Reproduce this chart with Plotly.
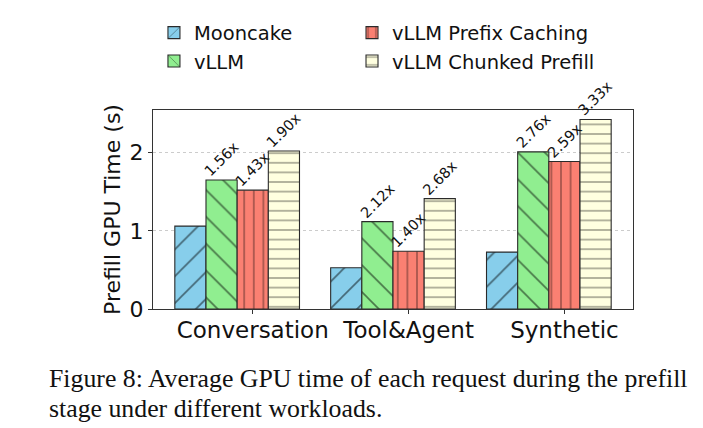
import plotly.graph_objects as go

categories = ["Conversation", "Tool&Agent", "Synthetic"]
mooncake = [1.06, 0.527, 0.728]
vllm = [1.65, 1.117, 2.01]
prefix_caching = [1.52, 0.738, 1.886]
chunked_prefill = [2.02, 1.412, 2.424]
vllm_speedup = ["1.56x", "2.12x", "2.76x"]
prefix_speedup = ["1.43x", "1.40x", "2.59x"]
chunked_speedup = ["1.90x", "2.68x", "3.33x"]
y_ticks = [0, 1, 2]
caption_lines = [
    "Figure 8: Average GPU time of each request during the prefill",
    "stage under different workloads.",
]

series = [
    dict(name="Mooncake", values=mooncake, color="#87CEEB", shape="/", labels=None, legend="legend"),
    dict(name="vLLM", values=vllm, color="#90EE90", shape="\\", labels=vllm_speedup, legend="legend"),
    dict(name="vLLM Prefix Caching", values=prefix_caching, color="#FA8072", shape="|", labels=prefix_speedup, legend="legend2"),
    dict(name="vLLM Chunked Prefill", values=chunked_prefill, color="#FFFFE0", shape="-", labels=chunked_speedup, legend="legend2"),
]

bar_w = 0.2
x_pos = list(range(len(categories)))
FONT = "DejaVu Sans"

fig = go.Figure()
annotations = []
for i, s in enumerate(series):
    offset = (i - 2) * bar_w - bar_w / 2
    diag = s["shape"] in ("/", "\\")
    fig.add_trace(go.Bar(
        x=x_pos, y=s["values"], name=s["name"], width=bar_w, offset=offset,
        legend=s["legend"], hoverinfo="skip",
        marker=dict(
            color=s["color"],
            line=dict(color="#2a2a2a", width=1.1),
            pattern=dict(shape=s["shape"], fgcolor="#000000",
                         size=19 if diag else 9.6,
                         solidity=0.085 if diag else 0.12),
        ),
    ))
    if s["labels"]:
        for xi, v, lab in zip(x_pos, s["values"], s["labels"]):
            annotations.append(dict(
                x=xi + offset + bar_w / 2, y=v, xref="x", yref="y",
                text=lab, showarrow=False, textangle=-45,
                xanchor="center", yanchor="middle", yshift=21,
                font=dict(family=FONT, size=14.5, color="#111111"),
            ))

for k, line in enumerate(caption_lines):
    annotations.append(dict(
        x=(47 - 153) / 480, y=(308.6 - (378 + 29.5 * k)) / 198.6,
        xref="paper", yref="paper", xanchor="left", yanchor="middle",
        text=line, showarrow=False,
        font=dict(family="Liberation Serif", size=25.8, color="#111111"),
    ))

legend_style = dict(
    orientation="v", yanchor="top", xanchor="left", y=1.485,
    font=dict(family=FONT, size=19.5, color="#111111"),
    bgcolor="rgba(0,0,0,0)", borderwidth=0,
)

fig.update_layout(
    width=703, height=428,
    margin=dict(l=153, r=70, t=110, b=119.4, pad=0, autoexpand=False),
    paper_bgcolor="white", plot_bgcolor="white",
    barmode="overlay",
    font=dict(family=FONT, color="#111111"),
    showlegend=True,
    legend=dict(x=0.002, **legend_style),
    legend2=dict(x=0.4146, **legend_style),
    annotations=annotations,
)
fig.update_xaxes(
    range=[-0.64, 2.44], tickvals=x_pos, ticktext=categories,
    showgrid=False, zeroline=False,
    showline=True, mirror=True, linecolor="#333333", linewidth=1.2,
    ticks="outside", ticklen=4, tickcolor="#333333",
    ticklabelstandoff=-4,
    tickfont=dict(family=FONT, size=23, color="#111111"),
)
fig.update_yaxes(
    range=[0, 2.545], tickvals=y_ticks,
    showgrid=True, gridcolor="#cccccc", griddash="dot", gridwidth=1,
    zeroline=False,
    showline=True, mirror=True, linecolor="#333333", linewidth=1.2,
    ticks="outside", ticklen=4, tickcolor="#333333",
    tickfont=dict(family=FONT, size=22, color="#111111"),
    title=dict(text="Prefill GPU Time (s)", standoff=2,
               font=dict(family=FONT, size=22, color="#111111")),
)

fig.write_html("out.html", config={"displayModeBar": False},
               post_script="document.body.style.margin='0px';")
